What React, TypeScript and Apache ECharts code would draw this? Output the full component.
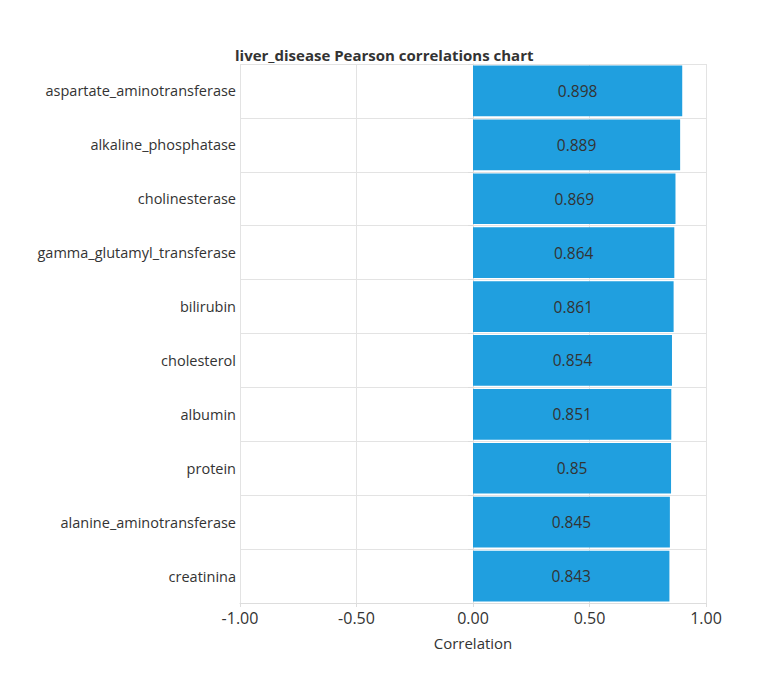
import { useEffect, useRef } from 'react';
import * as echarts from 'echarts';

const categories = [
  'aspartate_aminotransferase',
  'alkaline_phosphatase',
  'cholinesterase',
  'gamma_glutamyl_transferase',
  'bilirubin',
  'cholesterol',
  'albumin',
  'protein',
  'alanine_aminotransferase',
  'creatinina',
];
const correlations = [0.898, 0.889, 0.869, 0.864, 0.861, 0.854, 0.851, 0.85, 0.845, 0.843];

const FONT = '"Open Sans", "Noto Sans", sans-serif';

export default function App() {
  const ref = useRef<HTMLDivElement>(null);

  useEffect(() => {
    if (!ref.current) return;
    const chart = echarts.init(ref.current, undefined, { renderer: 'svg' });
    chart.setOption({
      animation: false,
      textStyle: { fontFamily: FONT },
      title: {
        text: 'liver_disease Pearson correlations chart',
        left: 222,
        top: 34,
        textStyle: { fontSize: 15, fontWeight: 'bold', color: '#333', fontFamily: FONT },
      },
      grid: { left: 232, right: 53, top: 56, bottom: 71 },
      xAxis: {
        type: 'value',
        min: -1,
        max: 1,
        interval: 0.5,
        name: 'Correlation',
        nameLocation: 'middle',
        nameGap: 32,
        nameTextStyle: { fontSize: 15, color: '#333' },
        axisLine: { show: true, lineStyle: { color: '#ddd' } },
        axisTick: { show: true, length: 4, lineStyle: { color: '#ddd' } },
        axisLabel: {
          fontSize: 16,
          color: '#333',
          margin: 7,
          formatter: (v: number) => v.toFixed(2),
        },
        splitLine: { show: true, lineStyle: { color: '#e3e3e3' } },
      },
      yAxis: {
        type: 'category',
        data: categories,
        inverse: true,
        axisLine: { show: true, lineStyle: { color: '#ddd' } },
        axisTick: { show: true, length: 5, lineStyle: { color: '#ddd' } },
        axisLabel: { fontSize: 14.5, color: '#333', margin: 4 },
        splitLine: { show: true, lineStyle: { color: '#e3e3e3' } },
      },
      series: [
        {
          type: 'bar',
          data: correlations,
          barCategoryGap: '6%',
          itemStyle: { color: '#209fdf' },
          label: {
            show: true,
            position: 'inside',
            fontSize: 15.5,
            color: '#333',
            formatter: (p: any) => String(p.value),
          },
        },
      ],
    });
    return () => chart.dispose();
  }, []);

  return <div ref={ref} style={{ width: 751, height: 666 }} />;
}
